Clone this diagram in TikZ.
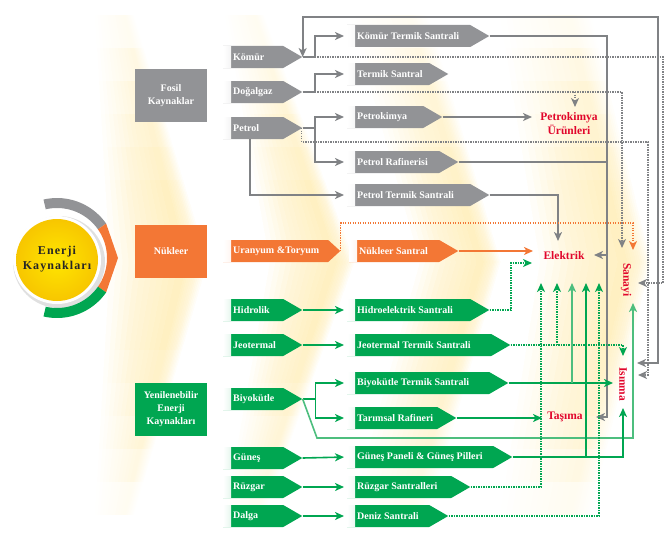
\documentclass[tikz,border=0pt]{standalone}
\usepackage{fontspec}
\setmainfont{Liberation Serif}
\newfontfamily\spacedfont{Liberation Serif}[LetterSpace=9]
\usetikzlibrary{shapes.symbols,arrows.meta,calc}
\definecolor{boxgray}{HTML}{929396}
\definecolor{linegray}{HTML}{808285}
\definecolor{orng}{HTML}{F37735}
\definecolor{grn}{HTML}{00A651}
\definecolor{lgrn}{HTML}{4DBE7E}
\definecolor{redtxt}{HTML}{E1062C}
\definecolor{glow}{HTML}{FFDA6A}
\definecolor{sunin}{HTML}{FFE600}
\definecolor{sunout}{HTML}{F7C600}
\begin{document}
\begin{tikzpicture}[x=1pt,y=-1pt,
  src/.style={signal, signal to=east, signal pointer angle=60, minimum height=22pt,
    inner xsep=10pt, inner ysep=0pt, anchor=west, text=white, fill=#1,
    font=\bfseries\fontsize{10}{12}\selectfont,
    path picture={\shade[left color=white, right color=#1]
      (path picture bounding box.south west) rectangle ([xshift=8pt]path picture bounding box.north west);}},
  cat/.style={rectangle, fill=#1, text=white, align=center, inner sep=0pt,
    minimum width=72pt, minimum height=53pt, font=\bfseries\fontsize{10}{13}\selectfont},
  res/.style={text=redtxt, font=\bfseries\fontsize{11.5}{14}\selectfont, inner sep=1pt, align=center},
  tip/.style={-{Stealth[length=9pt,width=8pt,inset=2.5pt]}},
  gline/.style={draw=linegray, line width=1.8pt},
  gdot/.style={draw=linegray, line width=1.4pt, dash pattern=on 1.4pt off 1.1pt},
  oline/.style={draw=orng, line width=1.6pt},
  odot/.style={draw=orng, line width=1.4pt, dash pattern=on 1.4pt off 1.1pt},
  nline/.style={draw=grn, line width=1.6pt},
  nlight/.style={draw=lgrn, line width=1.6pt},
  ndot/.style={draw=grn, line width=1.4pt, dash pattern=on 1.4pt off 1.1pt},
  sh/.style={shorten >=3pt}
]
\useasboundingbox (0,0) rectangle (668,535);

% background glow chevrons
\foreach \xl/\sl/\xr/\sr in {95/15/125/60, 225/45/255/80, 350/70/410/72, 500/40/570/55}{
  \foreach \k in {0,...,11}{
    \foreach \j in {0,...,5}{
      \pgfmathsetmacro\ta{\k/12}
      \pgfmathsetmacro\tb{1+0.3*(1-\k/12)}
      \pgfmathsetmacro\xat{\xl+\ta*(\xr-\xl)}
      \pgfmathsetmacro\xam{\xl+\sl+\ta*(\xr+\sr-\xl-\sl)}
      \pgfmathsetmacro\xbt{\xl+\tb*(\xr-\xl)}
      \pgfmathsetmacro\xbm{\xl+\sl+\tb*(\xr+\sr-\xl-\sl)}
      \pgfmathsetmacro\ya{15+33*\j}
      \pgfmathsetmacro\yb{515-33*\j}
      \pgfmathsetmacro\fa{(\ya-15)/247}
      \pgfmathsetmacro\fb{(515-\yb)/253}
      \fill[glow, fill opacity=0.0095]
        ({\xat+(\xam-\xat)*\fa},\ya) -- (\xam,262) -- ({\xat+(\xam-\xat)*\fb},\yb)
        -- ({\xbt+(\xbm-\xbt)*\fb},\yb) -- (\xbm,262) -- ({\xbt+(\xbm-\xbt)*\fa},\ya) -- cycle;
    }
  }
}

% emblem
\fill[black!12] (59,262) circle (46);
\fill[white] (57,260) circle (44);
\fill[boxgray] plot[smooth, domain=-103:-35, samples=20] ({57+60*cos(\x)},{258+60*sin(\x)})
  -- plot[smooth, domain=-35:-103, samples=20] ({57+50*cos(\x)},{258+50*sin(\x)}) -- cycle;
\fill[orng] ({57+60*cos(-35)},{258+60*sin(-35)}) -- (118,258) -- ({57+60*cos(35)},{258+60*sin(35)})
  -- plot[smooth, domain=35:-35, samples=20] ({57+50*cos(\x)},{258+50*sin(\x)}) -- cycle;
\fill[grn] plot[smooth, domain=35:103, samples=20] ({57+60*cos(\x)},{258+60*sin(\x)})
  -- plot[smooth, domain=103:35, samples=20] ({57+50*cos(\x)},{258+50*sin(\x)}) -- cycle;
\shade[inner color=sunin, outer color=sunout] (57,260) circle (41);
\node[font=\spacedfont\bfseries\fontsize{12}{15}\selectfont, align=center, text=black!85] (enerji) at (57,259) {Enerji\\Kaynakları};

% categories
\node[cat=boxgray] (fosil) at (171,95.5) {Fosil\\Kaynaklar};
\node[cat=orng] (nukleer) at (171,251.5) {Nükleer};
\node[cat=grn] (yenilen) at (171,409.5) {Yenilenebilir\\Enerji\\Kaynakları};

% sources
\node[src=boxgray] (komur) at (223,57) {\makebox[40pt][l]{Kömür}};
\node[src=boxgray] (dogal) at (223,92) {\makebox[40pt][l]{Doğalgaz}};
\node[src=boxgray] (petrol) at (223,128) {\makebox[40pt][l]{Petrol}};
\node[src=orng, signal pointer angle=85] (uran) at (223,251) {\makebox[85pt][l]{Uranyum \&Toryum}};
\node[src=grn] (hidro) at (223,310) {\makebox[40pt][l]{Hidrolik}};
\node[src=grn] (jeo) at (223,345) {\makebox[40pt][l]{Jeotermal}};
\node[src=grn] (biyo) at (223,399) {\makebox[40pt][l]{Biyokütle}};
\node[src=grn] (gunes) at (223,458) {\makebox[40pt][l]{Güneş}};
\node[src=grn] (ruzgar) at (223,487) {\makebox[40pt][l]{Rüzgar}};
\node[src=grn] (dalga) at (223,516) {\makebox[40pt][l]{Dalga}};

% plants
\node[src=boxgray] (kts) at (347,36) {\makebox[103pt][l]{Kömür Termik Santrali}};
\node[src=boxgray] (termik) at (347,74) {\makebox[62pt][l]{Termik Santral}};
\node[src=boxgray] (petrokim) at (347,117) {\makebox[56pt][l]{Petrokimya}};
\node[src=boxgray] (prafin) at (347,162) {\makebox[72pt][l]{Petrol Rafinerisi}};
\node[src=boxgray] (pts) at (347,195) {\makebox[103pt][l]{Petrol Termik Santrali}};
\node[src=orng] (ns) at (349,251) {\makebox[70pt][l]{Nükleer Santral}};
\node[src=grn] (hes) at (347,310) {\makebox[103pt][l]{Hidroelektrik Santrali}};
\node[src=grn] (jts) at (347,345) {\makebox[124pt][l]{Jeotermal Termik Santrali}};
\node[src=grn] (bts) at (347,383) {\makebox[122pt][l]{Biyokütle Termik Santrali}};
\node[src=grn] (tr) at (347,418) {\makebox[70pt][l]{Tarımsal Rafineri}};
\node[src=grn] (gp) at (347,457) {\makebox[126pt][l]{Güneş Paneli \& Güneş Pilleri}};
\node[src=grn] (rs) at (347,487) {\makebox[84pt][l]{Rüzgar Santralleri}};
\node[src=grn] (ds) at (347,516) {\makebox[62pt][l]{Deniz Santrali}};

% results
\node[res] (petrourun) at (569,124) {Petrokimya\\Ürünleri};
\node[res] (elektrik) at (564,256) {Elektrik};
\node[res, rotate=-90] (sanayi) at (626,280) {Sanayi};
\node[res, rotate=-90] (isinma) at (623,384) {Isınma};
\node[res] (tasima) at (565,417) {Taşıma};

% end points at results
\coordinate (puL) at (532,117);
\coordinate (puT) at (575,107);
\coordinate (eN) at (533,251);
\coordinate (eH) at (532,263);
\coordinate (eP) at (558,241);
\coordinate (eK) at (594,255);
\coordinate (e1) at (541,283);
\coordinate (e2) at (557,283);
\coordinate (e3) at (572,283);
\coordinate (e4) at (586,283);
\coordinate (e5) at (599,283);
\coordinate (sO) at (633,250);
\coordinate (sD) at (622,248);
\coordinate (sK) at (638,283);
\coordinate (sB) at (633,303);
\coordinate (iJ) at (623,356);
\coordinate (iK) at (637,363);
\coordinate (iP) at (638,375);
\coordinate (iB) at (613,383);
\coordinate (iG) at (623,408);
\coordinate (tT) at (542,418);
\coordinate (tK) at (596,417);

% fossil connectors
\draw[gdot, tip] ([xshift=12pt]komur.east) -| (663,283) -- (sK);
\draw[gdot, tip] ([xshift=12pt]dogal.east) -| (sD);
\draw[gdot, tip] (575,92) -- (puT);
\draw[gdot, tip] ([xshift=-1pt]petrol.east) -- ++(0,14) -| (648,375) -- (iP);
\draw[gline, {Stealth[length=9pt,width=8pt,inset=2.5pt]}-{Stealth[length=9pt,width=8pt,inset=2.5pt]}]
  (komur.east) |- (658,17) -- (658,363) -- (iK);
\draw[gline, tip, sh] (komur.east) -- ++(12,0) |- (kts.west);
\draw[gline, tip, sh] (dogal.east) -- ++(12,0) |- (termik.west);
\draw[gline, tip, sh] (petrol.east) -- ++(12,0) |- (petrokim.west);
\draw[gline, tip, sh] (petrol.east) -- ++(12,0) |- (prafin.west);
\draw[gline, tip, sh] ([xshift=-3pt]petrol.south) |- (pts.west);
\draw[gline, tip] (kts.east) -| (607,417) -- (tK);
\draw[gline, tip] (607,255) -- (eK);
\draw[gline] (prafin.east) -- (607,162);
\draw[gline, tip] (pts.east) -| (eP);
\draw[gline, tip] (petrokim.east) -- (puL);

% nuclear
\draw[odot, tip] (uran.east) |- (633,223) -- (sO);
\draw[oline, tip] (ns.east) -- (eN);

% renewable
\draw[nline, tip, sh] (hidro.east) -- (hes.west);
\draw[nline, tip, sh] (jeo.east) -- (jts.west);
\draw[nline, tip, sh] (biyo.east) -- ++(13,0) |- (bts.west);
\draw[nline, tip, sh] (biyo.east) -- ++(13,0) |- (tr.west);
\draw[nlight, tip] (biyo.east) -- (317,438) -| (sB);
\draw[nline, tip, sh] (gunes.east) -- (gp.west);
\draw[nline, tip, sh] (ruzgar.east) -- (rs.west);
\draw[nline, tip, sh] (dalga.east) -- (ds.west);
\draw[ndot, tip] (hes.east) -| (511,263) -- (eH);
\draw[ndot, tip] (jts.east) -| (iJ);
\draw[ndot, tip] (557,345) -- (e2);
\draw[nline, tip] (bts.east) -- (iB);
\draw[nlight, tip] (572,383) -- (e3);
\draw[nline, tip] (tr.east) -- (tT);
\draw[nline, tip] (gp.east) -| (iG);
\draw[nline, tip] (586,457) -- (e4);
\draw[ndot, tip] (rs.east) -| (e1);
\draw[ndot, tip] (ds.east) -| (e5);
\end{tikzpicture}
\end{document}
